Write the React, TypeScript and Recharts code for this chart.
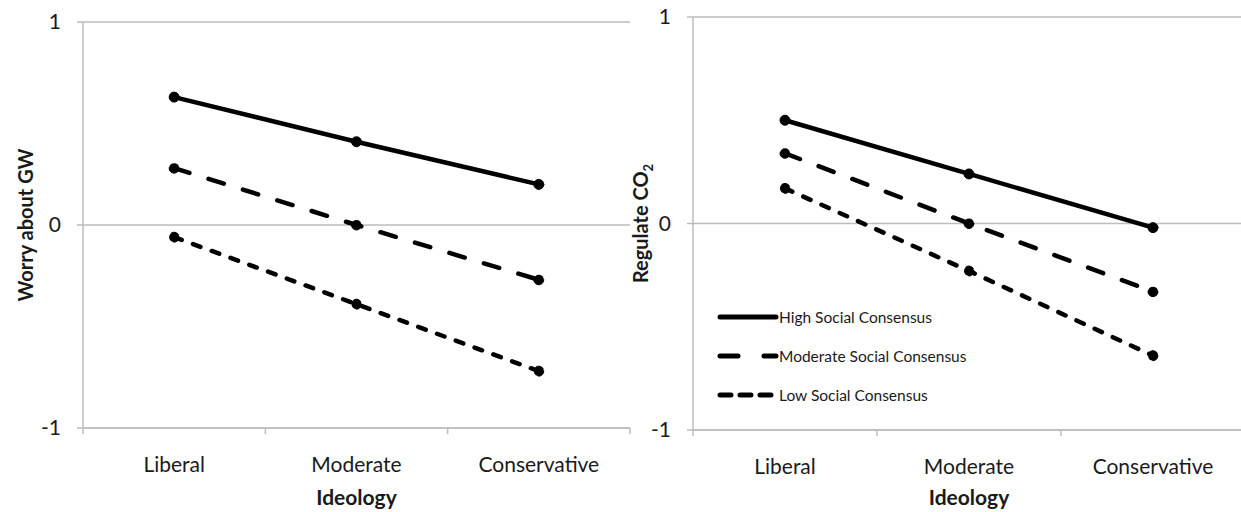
import React from 'react';
import { LineChart, Line, XAxis, YAxis, CartesianGrid, Legend } from 'recharts';

const categories = ['Liberal', 'Moderate', 'Conservative'];
const seriesNames = ['High Social Consensus', 'Moderate Social Consensus', 'Low Social Consensus'];
const seriesKeys = ['high', 'moderate', 'low'];

const worryHigh = [0.63, 0.41, 0.2];
const worryModerate = [0.28, 0.0, -0.27];
const worryLow = [-0.06, -0.39, -0.72];

const regulateHigh = [0.5, 0.24, -0.02];
const regulateModerate = [0.34, 0.0, -0.33];
const regulateLow = [0.17, -0.23, -0.64];

const yTicks = [-1, 0, 1];
const xTitle = 'Ideology';

const FONT = 'Lato, "Open Sans", sans-serif';
const TXT = '#1a1a1a';
const GRAY = '#bdbdbd';

const lineDash: Record<string, string | undefined> = {
  high: undefined,
  moderate: '16 20',
  low: '8 12',
};
const legendDash: Record<string, string | undefined> = {
  high: undefined,
  moderate: '18 26',
  low: '11 9',
};

function buildRows(h: number[], m: number[], l: number[]) {
  return categories.map((c, i) => ({ x: i + 0.5, cat: c, high: h[i], moderate: m[i], low: l[i] }));
}

const xTicks: number[] = [];
for (let i = 0; i <= categories.length * 2; i++) xTicks.push(i / 2);

const XTick = (props: any) => {
  const { x, y, payload } = props;
  const v = payload.value;
  if (Number.isInteger(v)) {
    return <line x1={x} x2={x} y1={y} y2={y + 6} stroke={GRAY} strokeWidth={1.5} />;
  }
  return (
    <text x={x} y={y + 44} textAnchor="middle" fontSize={21} fontFamily={FONT} fill={TXT}>
      {categories[Math.floor(v)]}
    </text>
  );
};

const makeYTitle = (offsetX: number, main: string, sub?: string) => (p: any) => {
  const vb = p.viewBox || {};
  const cx = (vb.x || 0) + offsetX;
  const cy = (vb.y || 0) + (vb.height || 0) / 2;
  return (
    <text
      x={cx}
      y={cy}
      transform={`rotate(-90 ${cx} ${cy})`}
      textAnchor="middle"
      dominantBaseline="central"
      fontSize={20}
      fontWeight="bold"
      fontFamily={FONT}
      fill={TXT}
    >
      {main}
      {sub ? (
        <tspan fontSize={13} baselineShift="sub">
          {sub}
        </tspan>
      ) : null}
    </text>
  );
};

const LegendContent = (props: any) => {
  const payload = [...(props.payload || [])].sort(
    (a: any, b: any) => seriesKeys.indexOf(a.dataKey) - seriesKeys.indexOf(b.dataKey)
  );
  return (
    <div>
      {payload.map((entry: any, i: number) => {
        const key = entry.dataKey as string;
        return (
          <div key={i} style={{ display: 'flex', alignItems: 'center', height: 39 }}>
            <svg width={62} height={10} style={{ display: 'block' }}>
              <line
                x1={3}
                x2={59}
                y1={5}
                y2={5}
                stroke="#000"
                strokeWidth={5}
                strokeLinecap="round"
                strokeDasharray={legendDash[key]}
              />
            </svg>
            <span style={{ fontSize: 15.5, fontFamily: FONT, color: TXT, whiteSpace: 'nowrap' }}>{entry.value}</span>
          </div>
        );
      })}
    </div>
  );
};

const Panel = (props: {
  rows: any[];
  width: number;
  yWidth: number;
  top: number;
  bottom: number;
  marginRight: number;
  titleOffset: number;
  title: string;
  titleSub?: string;
  legend?: boolean;
}) => {
  const { rows, width, yWidth, top, bottom, marginRight, titleOffset, title, titleSub, legend } = props;
  const height = 512;
  return (
    <LineChart width={width} height={height} data={rows} margin={{ top, right: marginRight, left: 0, bottom: 0 }}>
      <CartesianGrid vertical={false} stroke={GRAY} strokeWidth={1.5} />
      <XAxis
        dataKey="x"
        type="number"
        domain={[0, categories.length]}
        ticks={xTicks}
        interval={0}
        tick={<XTick />}
        tickLine={false}
        tickSize={0}
        tickMargin={0}
        axisLine={{ stroke: GRAY, strokeWidth: 1.5 }}
        height={height - bottom}
        label={{ value: xTitle, position: 'insideBottom', offset: 7, fontSize: 21, fontWeight: 'bold', fontFamily: FONT, fill: TXT }}
      />
      <YAxis
        type="number"
        domain={[-1, 1]}
        ticks={yTicks}
        width={yWidth}
        tickSize={6}
        tickMargin={16}
        tick={{ fontSize: 21, fontFamily: FONT, fill: TXT }}
        tickLine={{ stroke: GRAY, strokeWidth: 1.5 }}
        axisLine={{ stroke: GRAY, strokeWidth: 1.5 }}
        label={{ content: makeYTitle(titleOffset, title, titleSub) }}
      />
      {seriesKeys.map((k, i) => (
        <Line
          key={k}
          type="linear"
          dataKey={k}
          name={seriesNames[i]}
          stroke="#000"
          strokeWidth={4.5}
          strokeLinecap="round"
          strokeDasharray={lineDash[k]}
          dot={{ r: 5, fill: '#000', stroke: '#000', strokeWidth: 1 }}
          activeDot={false}
          isAnimationActive={false}
        />
      ))}
      {legend ? (
        <Legend
          layout="vertical"
          align="center"
          verticalAlign="middle"
          content={<LegendContent />}
          wrapperStyle={{ left: 97, top: 297, width: 'auto', height: 'auto' }}
        />
      ) : null}
    </LineChart>
  );
};

export default function App() {
  const leftRows = buildRows(worryHigh, worryModerate, worryLow);
  const rightRows = buildRows(regulateHigh, regulateModerate, regulateLow);
  return (
    <div style={{ position: 'absolute', left: 0, top: 0, width: 1241, height: 512, overflow: 'hidden', background: '#fff' }}>
      <div style={{ position: 'absolute', left: 0, top: 0 }}>
        <Panel
          rows={leftRows}
          width={640}
          yWidth={83}
          top={22}
          bottom={428}
          marginRight={10}
          titleOffset={25}
          title="Worry about GW"
        />
      </div>
      <div style={{ position: 'absolute', left: 620, top: 0 }}>
        <Panel
          rows={rightRows}
          width={625}
          yWidth={73}
          top={17}
          bottom={430}
          marginRight={0}
          titleOffset={20}
          title="Regulate CO"
          titleSub="2"
          legend
        />
      </div>
    </div>
  );
}
